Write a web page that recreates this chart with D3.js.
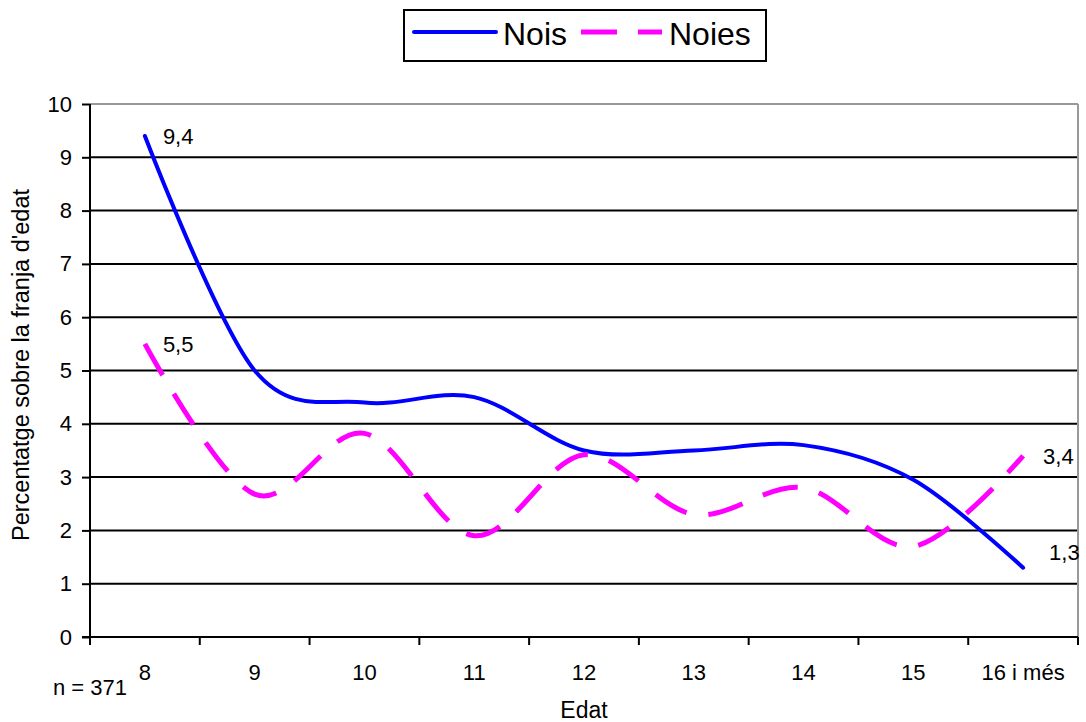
<!DOCTYPE html>
<html><head><meta charset="utf-8">
<script src="https://cdn.jsdelivr.net/npm/d3@7/dist/d3.min.js"></script>
<style>body{margin:0;background:#fff}svg{font-family:"Liberation Sans",Arial,sans-serif}</style>
</head><body><svg id="c" width="1086" height="722"></svg>
<script>
const categories = ["8","9","10","11","12","13","14","15","16 i més"];
const nois = [9.4, 5.0, 4.4, 4.5, 3.5, 3.5, 3.6, 2.95, 1.3];
const noies = [5.5, 2.68, 3.82, 1.9, 3.42, 2.3, 2.8, 1.7, 3.4];
const yTicks = [0,1,2,3,4,5,6,7,8,9,10];

const svg = d3.select("#c");
const L=90, R=1078, T=104, B=637;
const FS = 22;
const x = d3.scaleBand().domain(categories).range([L,R]);
const y = d3.scaleLinear().domain([0,10]).range([B,T]);

// gridlines
svg.append("g").selectAll("line").data(yTicks.filter(d=>d>0&&d<10)).join("line")
  .attr("x1",L).attr("x2",R).attr("y1",d=>y(d)).attr("y2",d=>y(d))
  .attr("stroke","#000").attr("stroke-width",2);
// plot border top/right
svg.append("line").attr("x1",L).attr("x2",R).attr("y1",T).attr("y2",T).attr("stroke","#999").attr("stroke-width",2);
svg.append("line").attr("x1",R).attr("x2",R).attr("y1",T).attr("y2",B).attr("stroke","#999").attr("stroke-width",2);

// y axis
const ya = svg.append("g").attr("transform",`translate(${L},0)`)
  .call(d3.axisLeft(y).tickValues(yTicks).tickSize(8).tickPadding(10).tickFormat(d3.format("d")));
ya.select(".domain").attr("stroke","#000").attr("stroke-width",2).attr("d",`M0,${T}V${B}`);
ya.selectAll(".tick line").attr("stroke","#000").attr("stroke-width",2);
ya.selectAll("text").attr("font-size",FS).attr("fill","#000").attr("font-family","Liberation Sans, Arial, sans-serif");

// x axis
const xa = svg.append("g").attr("transform",`translate(0,${B})`);
xa.append("line").attr("x1",L-8).attr("x2",R).attr("y1",0).attr("y2",0).attr("stroke","#000").attr("stroke-width",2);
const bounds = categories.map(c=>x(c)).concat([R]);
xa.selectAll("line.tk").data(bounds).join("line").attr("class","tk")
  .attr("x1",d=>d).attr("x2",d=>d).attr("y1",0).attr("y2",8).attr("stroke","#000").attr("stroke-width",2);
xa.selectAll("text").data(categories).join("text")
  .attr("x",d=>x(d)+x.bandwidth()/2).attr("y",43).attr("text-anchor","middle")
  .attr("font-size",FS).text(d=>d);

// lines
const cx = (d,i)=>x(categories[i])+x.bandwidth()/2;
const line = d3.line().x((d,i)=>cx(d,i)).y(d=>y(d)).curve(d3.curveCardinal.tension(0));
svg.append("path").attr("d",line(nois)).attr("fill","none").attr("stroke","#0000ff").attr("stroke-width",4).attr("stroke-linecap","round");
svg.append("path").attr("d",line(noies)).attr("fill","none").attr("stroke","#ff00ff").attr("stroke-width",5).attr("stroke-dasharray","36,22");

// data labels
const lbl = (t,xx,yy)=>svg.append("text").attr("x",xx).attr("y",yy).attr("font-size",FS).text(t);
lbl("9,4", cx(0,0)+18, y(nois[0])+8);
lbl("5,5", cx(0,0)+18, y(noies[0])+8);
lbl("3,4", cx(0,8)+20, y(noies[8])+8);
lbl("1,3", cx(0,8)+26, y(nois[8])-8);

// titles
svg.append("text").attr("x",53).attr("y",695).attr("font-size",FS).text("n = 371");
svg.append("text").attr("x",(L+R)/2).attr("y",718).attr("text-anchor","middle").attr("font-size",23).text("Edat");
svg.append("text").attr("transform",`translate(29,365) rotate(-90)`).attr("text-anchor","middle").attr("font-size",23.5).text("Percentatge sobre la franja d'edat");

// legend
const lg = svg.append("g");
lg.append("rect").attr("x",404).attr("y",10).attr("width",362).attr("height",51).attr("fill","#fff").attr("stroke","#000").attr("stroke-width",2);
lg.append("line").attr("x1",414).attr("x2",496).attr("y1",32).attr("y2",32).attr("stroke","#0000ff").attr("stroke-width",4).attr("stroke-linecap","round");
lg.append("text").attr("x",503).attr("y",45).attr("font-size",32).text("Nois");
lg.append("line").attr("x1",581).attr("x2",662).attr("y1",32).attr("y2",32).attr("stroke","#ff00ff").attr("stroke-width",5).attr("stroke-dasharray","36,21");
lg.append("text").attr("x",669).attr("y",45).attr("font-size",32).text("Noies");
</script></body></html>
